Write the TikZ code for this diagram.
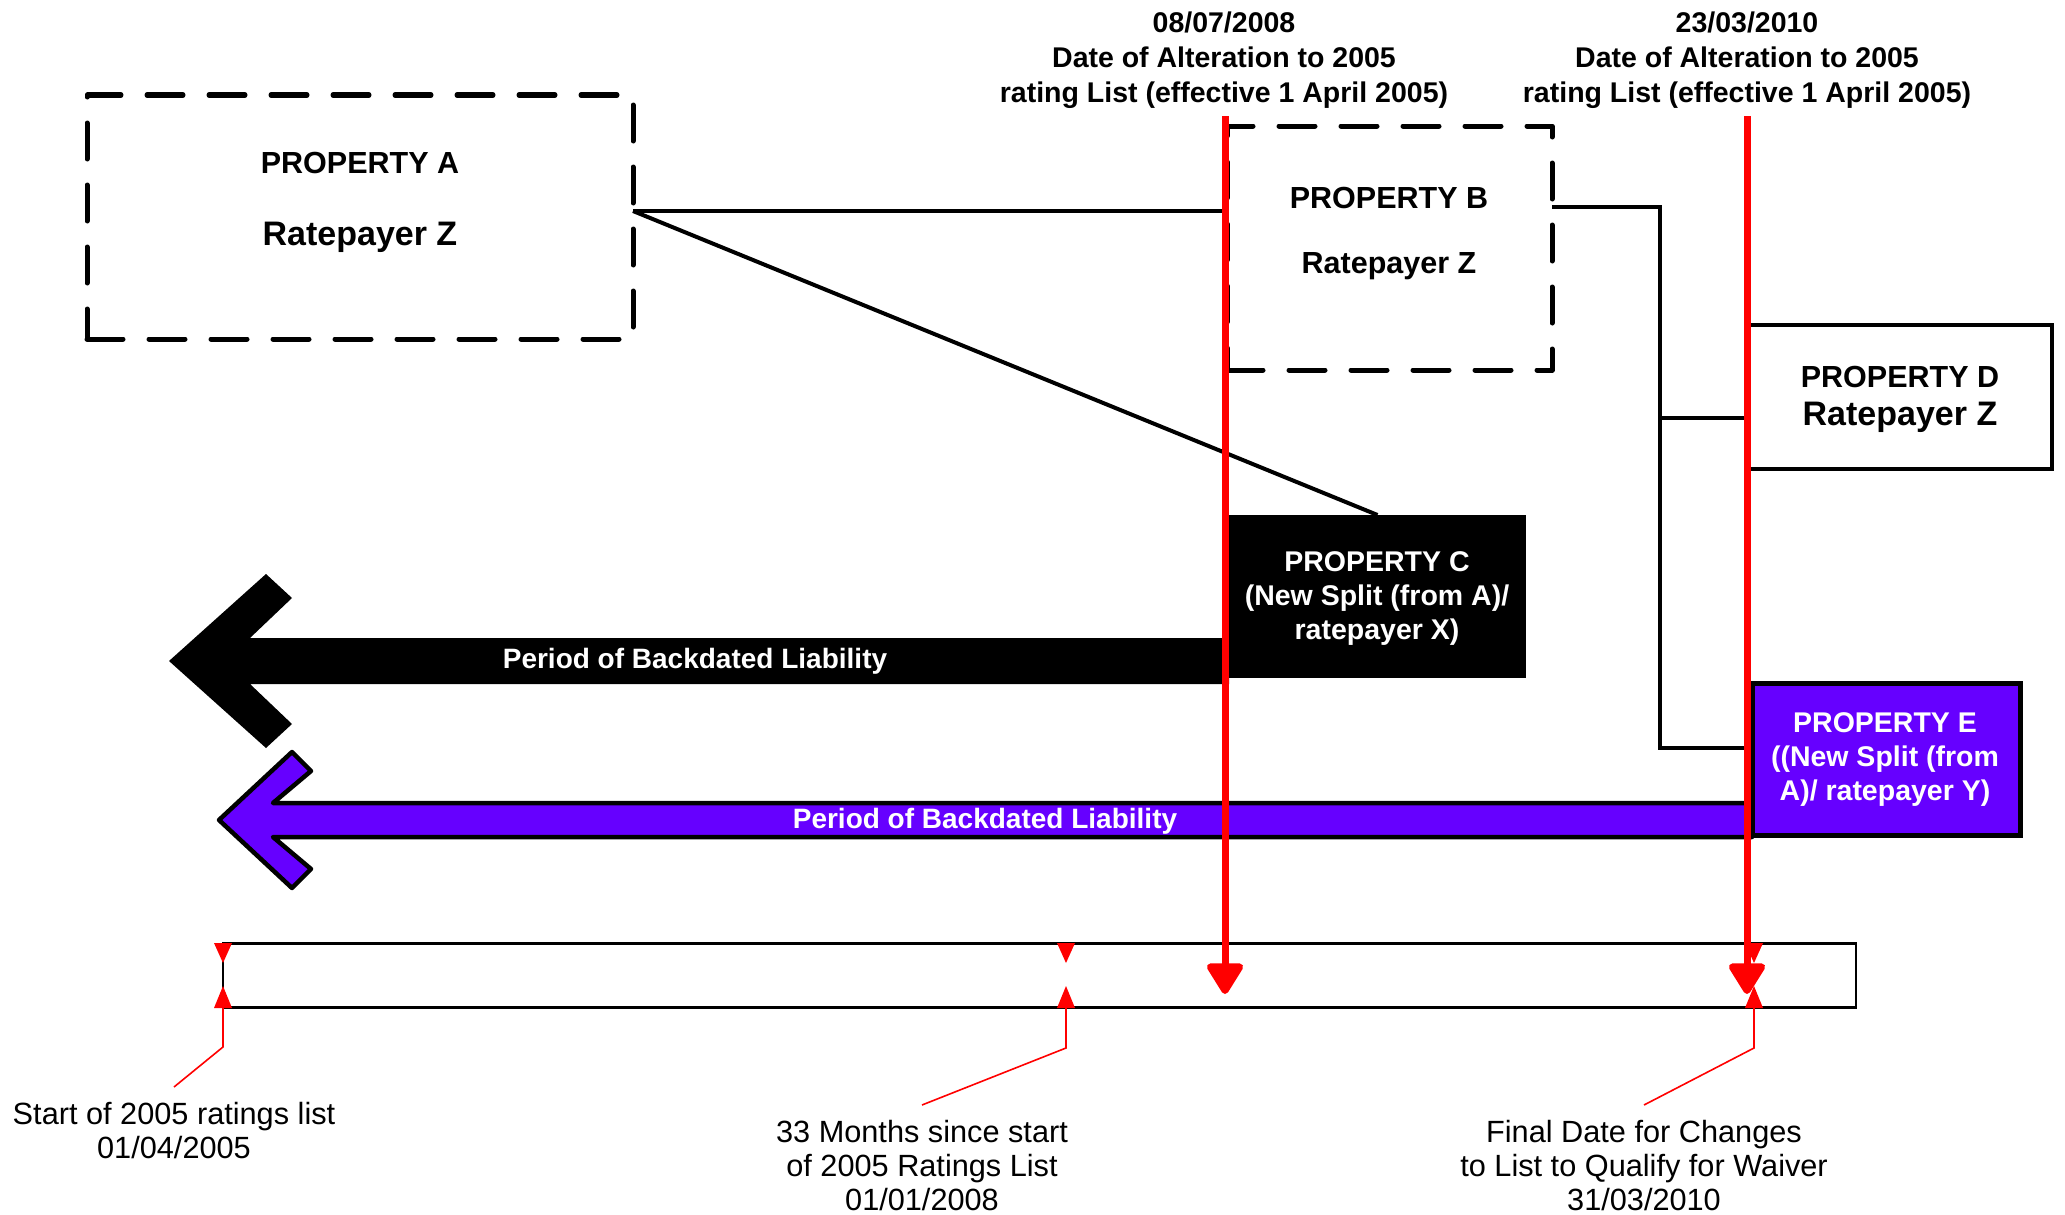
\documentclass[tikz,border=0pt]{standalone}
\usepackage{fontspec}
\setmainfont{Liberation Sans}
\usetikzlibrary{arrows.meta,calc}
\definecolor{violetfill}{RGB}{102,0,255}
\definecolor{markred}{RGB}{255,0,0}

\begin{document}
\begin{tikzpicture}[x=1pt,y=-1pt,
  every node/.style={inner sep=0pt, outer sep=0pt},
  dashbox/.style={draw, line width=5pt, dash pattern=on 36pt off 26pt, line cap=round, line join=round},
  solidbox/.style={draw, line width=4.5pt},
  blackbox/.style={fill=black},
  violetbox/.style={fill=violetfill, draw=black, line width=5pt},
  boxtitle/.style={font=\fontsize{30.5}{35}\selectfont\bfseries, anchor=north},
  boxname/.style={font=\fontsize{34}{38}\selectfont\bfseries, anchor=north},
  whitetxt/.style={font=\fontsize{28.5}{34}\selectfont\bfseries, align=center, text=white, anchor=north},
  datetxt/.style={font=\fontsize{28.5}{35}\selectfont\bfseries, align=center, anchor=north},
  bartxt/.style={font=\fontsize{28}{32}\selectfont\bfseries, text=white, anchor=base},
  notetxt/.style={font=\fontsize{30.7}{34}\selectfont, align=center, anchor=north, outer sep=15pt},
  conn/.style={draw, line width=4pt},
  redline/.style={draw=markred, line width=7pt, -{Triangle[length=34pt,width=40pt,round]}},
  annot/.style={draw=markred, line width=1.6pt},
  tickmark/.style={fill=markred}
]
\useasboundingbox (0,0) rectangle (2065,1215);

% period arrows (drawn first, the boxes sit on their right ends)
\fill[black] (169,661) -- (266,574) -- (292,598) -- (250,638) -- (1229,638)
  -- (1229,684) -- (250,684) -- (292,724) -- (266,748) -- cycle;
\filldraw[fill=violetfill, draw=black, line width=4.5pt, line join=round]
  (219,820) -- (292,752) -- (311,771) -- (273,803) -- (1752,803)
  -- (1752,837) -- (273,837) -- (311,869) -- (292,888) -- cycle;
\node[bartxt] (barC) at (695,668) {Period of Backdated Liability};
\node[bartxt] (barE) at (985,828) {Period of Backdated Liability};

% properties
\node[dashbox, minimum width=546pt, minimum height=244pt] (A) at (360,217) {};
\node[boxtitle] (Atitle) at (360,152) {PROPERTY A};
\node[boxname] (Aname) at (360,222) {Ratepayer Z};

\node[dashbox, minimum width=325pt, minimum height=244pt] (B) at (1389.5,248) {};
\node[boxtitle] (Btitle) at (1389,187) {PROPERTY B};
\node[boxtitle] (Bname) at (1389,253) {Ratepayer Z};

\node[blackbox, minimum width=297pt, minimum height=163pt] (C) at (1377.5,596.5) {};
\node[whitetxt] (Ctxt) at (1377,552) {PROPERTY C\\(New Split (from A)/\\ratepayer X)};

\node[solidbox, minimum width=303pt, minimum height=144pt] (D) at (1900.5,397) {};
\node[boxtitle] (Dtitle) at (1900,366) {PROPERTY D};
\node[boxname] (Dname) at (1900,402) {Ratepayer Z};

\node[violetbox, minimum width=268pt, minimum height=152pt] (E) at (1886,759) {};
\node[whitetxt] (Etxt) at (1885,713) {PROPERTY E\\((New Split (from\\A)/ ratepayer Y)};

% links between properties
\coordinate (Aport) at ([yshift=6pt]A.east);
\coordinate (Bport) at ([yshift=-81pt]B.north east);
\coordinate (Dport) at ([yshift=-21pt]D.west);
\coordinate (Eport) at ([yshift=11pt]E.west);
\coordinate (bus) at (1660,0);
\draw[conn] (Aport) -- (Aport -| B.west);
\draw[conn] (Aport) -- (C.north);
\draw[conn] (Bport) -| (bus |- Eport) -- (Eport);
\draw[conn] (bus |- Dport) -- (Dport);

% time line
\node[draw, line width=2.5pt, minimum width=1633pt, minimum height=64pt] (T) at (1039.5,975.5) {};
\coordinate (k1) at (223,1008);
\coordinate (k2) at (1066,1008);
\coordinate (k3) at (1754,1008);
\foreach \x in {223,1066,1754} {
  \fill[tickmark] (\x-9,943) -- (\x+9,943) -- (\x,963) -- cycle;
  \fill[tickmark] (\x-9,1008) -- (\x+9,1008) -- (\x,986) -- cycle;
}

\node[notetxt] (lab1) at (174,1087) {Start of 2005 ratings list\\01/04/2005};
\node[notetxt] (lab2) at (922,1105) {33 Months since start\\of 2005 Ratings List\\01/01/2008};
\node[notetxt] (lab3) at (1644,1105) {Final Date for Changes\\to List to Qualify for Waiver\\31/03/2010};
\draw[annot] (lab1.north) -- ([yshift=-39pt]k1) -- (k1);
\draw[annot] (lab2.north) -- ([yshift=-40pt]k2) -- (k2);
\draw[annot] (lab3.north) -- ([yshift=-40pt]k3) -- (k3);

% alteration dates
\node[datetxt] (d1) at (1224,12) {08/07/2008\\Date of Alteration to 2005\\rating List (effective 1 April 2005)};
\node[datetxt] (d2) at (1747,12) {23/03/2010\\Date of Alteration to 2005\\rating List (effective 1 April 2005)};
\coordinate (r1top) at (1225,116);
\coordinate (r1end) at (1225,994);
\coordinate (r2top) at (1747,116);
\coordinate (r2end) at (1747,994);
\draw[redline] (r1top) -- (r1end);
\draw[redline] (r2top) -- (r2end);
\end{tikzpicture}
\end{document}
